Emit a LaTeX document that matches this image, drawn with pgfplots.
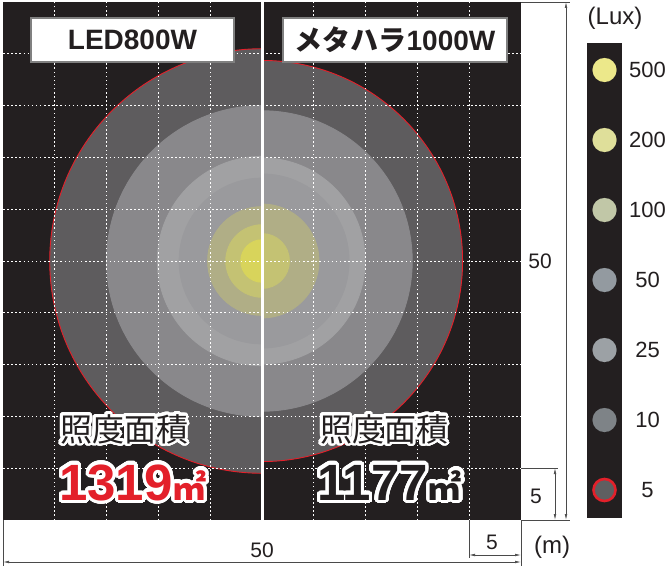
\documentclass[border=0pt]{standalone}
\usepackage{fontspec}
\setmainfont{Liberation Sans}
\newfontfamily\cjk{Noto Sans CJK JP}
\usepackage{pgfplots}
\usepackage{pgfplotstable}
\pgfplotsset{compat=1.18}
\usetikzlibrary{arrows.meta}
\usepackage{contour}
\contournumber{48}

\definecolor{bg}{HTML}{231F20}
\definecolor{ink}{HTML}{231F20}
\definecolor{ringred}{HTML}{E3202A}
\definecolor{dim}{HTML}{4A4A4A}
% zone colours on the map
\definecolor{z5}{HTML}{5E5C5E}
\definecolor{z10}{HTML}{89888B}
\definecolor{z25}{HTML}{A1A1A3}
\definecolor{z50}{HTML}{9A9A9D}
\definecolor{z100}{HTML}{B0AE86}
\definecolor{z200}{HTML}{C4C273}
\definecolor{z500}{HTML}{D8D45B}
% legend dots
\definecolor{k5}{HTML}{5F5F61}
\definecolor{k10}{HTML}{7E8387}
\definecolor{k25}{HTML}{9CA1A5}
\definecolor{k50}{HTML}{939AA0}
\definecolor{k100}{HTML}{C1C7A7}
\definecolor{k200}{HTML}{DFDF9A}
\definecolor{k500}{HTML}{ECE88A}

% radius (m) of each lux zone, lamp at (25,25)
\pgfplotstableread{
x  y  r      cls
25 25 20.49  z5
25 25 15.0   z10
25 25 10.1   z25
25 25 8.0    z50
25 25 5.25   z100
25 25 3.5    z200
25 25 2.05   z500
}\led
\pgfplotstableread{
x  y  r      cls
25 25 19.36  z5
25 25 14.5   z10
25 25 9.95   z25
25 25 8.4    z50
25 25 5.5    z100
25 25 2.65   z200
}\mh

\pgfplotsset{
  map/.style={x=10.36pt, y=10.36pt, ymin=0, ymax=50, anchor=south west,
    axis background/.style={fill=bg}, axis line style={draw=none},
    ytick={5,10,...,45}, xticklabels={}, yticklabels={}, major tick length=0pt,
    grid=major, grid style={white!88, line width=0.7pt, dash pattern=on 1.5pt off 2.6pt},
    axis on top, clip marker paths=true},
  zones/.style={only marks, mark=*, line width=0.9pt,
    scatter, point meta=explicit symbolic,
    scatter/classes={
      z5={fill=z5, draw=ringred},
      z10={fill=z10, draw=z10},
      z25={fill=z25, draw=z25},
      z50={fill=z50, draw=z50},
      z100={fill=z100, draw=z100},
      z200={fill=z200, draw=z200},
      z500={fill=z500, draw=z500}},
    visualization depends on={10.36*\thisrow{r} \as \zr},
    scatter/@pre marker code/.append style={/tikz/mark size=\zr}},
  dot/.style={only marks, mark=*, mark size=12pt, line width=0.1pt,
    mark options={fill=#1, draw=#1}, point meta=explicit symbolic,
    nodes near coords, nodes near coords style={anchor=center, xshift=43pt,
      text=ink, font=\fontsize{22}{22}\selectfont}},
}

\begin{document}
\begin{tikzpicture}
\path[use as bounding box] (-3pt,-46pt) rectangle (665pt,520pt);

\begin{axis}[map, at={(0pt,0pt)}, xmin=0, xmax=25, xtick={5,10,15,20}]
\addplot[zones] table[x=x, y=y, meta=cls] {\led};
\end{axis}

\begin{axis}[map, at={(259pt,0pt)}, xmin=25, xmax=50, xtick={30,35,40,45}]
\addplot[zones] table[x=x, y=y, meta=cls] {\mh};
\end{axis}

% legend column
\begin{axis}[at={(584pt,2pt)}, anchor=south west, x=35pt, y=70pt,
  xmin=0, xmax=1, ymin=0, ymax=6.786,
  axis background/.style={fill=bg}, axis line style={draw=none},
  xtick=\empty, ytick=\empty, clip=false]
\addplot[dot=k5, mark size=11pt, mark options={fill=k5, draw=ringred, line width=2.6pt}] coordinates {(0.5,0.4) [5]};
\addplot[dot=k10] coordinates {(0.5,1.4) [10]};
\addplot[dot=k25] coordinates {(0.5,2.4) [25]};
\addplot[dot=k50] coordinates {(0.5,3.4) [50]};
\addplot[dot=k100] coordinates {(0.5,4.4) [100]};
\addplot[dot=k200] coordinates {(0.5,5.4) [200]};
\addplot[dot=k500] coordinates {(0.5,6.4) [500]};
\end{axis}

\draw[white, line width=3pt] (259pt,0pt) -- (259pt,518pt);

% lamp names
\node[draw=black!50, line width=1.2pt, fill=white, minimum width=203pt, minimum height=44pt,
  inner sep=0pt, text=ink, font=\fontsize{28}{28}\selectfont\bfseries] at (129.5pt,480pt) {LED800W};
\node[draw=black!50, line width=1.2pt, fill=white, minimum width=224pt, minimum height=44pt,
  inner sep=0pt, text=ink, font=\fontsize{28}{28}\selectfont\bfseries] at (392pt,480pt) {{\cjk\bfseries メタハラ}1000W};

% illuminated areas
\contourlength{2.8pt}
\node[anchor=base west, inner sep=0pt, text=ink, font=\cjk\fontsize{32}{32}\selectfont] at (57pt,79pt) {\contour{white}{照度面積}};
\node[anchor=base west, inner sep=0pt, text=ink, font=\cjk\fontsize{32}{32}\selectfont] at (317pt,79pt) {\contour{white}{照度面積}};
\contourlength{3.2pt}
\node[anchor=base west, inner sep=0pt, text=ringred, font=\fontsize{51}{51}\selectfont\bfseries] at (56pt,20pt) {\contour{white}{1319{\cjk\fontsize{34}{34}\selectfont ㎡}}};
\node[anchor=base west, inner sep=0pt, text=ink, font=\fontsize{51}{51}\selectfont\bfseries] at (314pt,20pt) {\contour{white}{1177{\cjk\fontsize{34}{34}\selectfont ㎡}}};

% dimensions
\begin{scope}[draw=dim, line width=0.6pt, >={Latex[length=6pt,width=2.6pt]}]
\draw (518pt,518pt) -- (567pt,518pt);
\draw (518pt,0pt) -- (567pt,0pt);
\draw[<->] (563pt,518pt) -- (563pt,0pt);
\draw (518pt,52pt) -- (555pt,52pt);
\draw[<->] (552pt,52pt) -- (552pt,0pt);
\draw (0pt,0pt) -- (0pt,-46pt);
\draw (518pt,0pt) -- (518pt,-46pt);
\draw[<->] (0pt,-42pt) -- (518pt,-42pt);
\draw (466pt,0pt) -- (466pt,-38pt);
\draw[<->] (466pt,-35pt) -- (518pt,-35pt);
\end{scope}
\begin{scope}[text=ink, font=\fontsize{21}{21}\selectfont]
\node at (537pt,259pt) {50};
\node at (533pt,24pt) {5};
\node at (259pt,-30pt) {50};
\node at (489pt,-22pt) {5};
\node[font=\fontsize{24}{24}\selectfont] at (549pt,-27pt) {(m)};
\node[font=\fontsize{24}{24}\selectfont] at (612pt,502pt) {(Lux)};
\end{scope}
\end{tikzpicture}
\end{document}
